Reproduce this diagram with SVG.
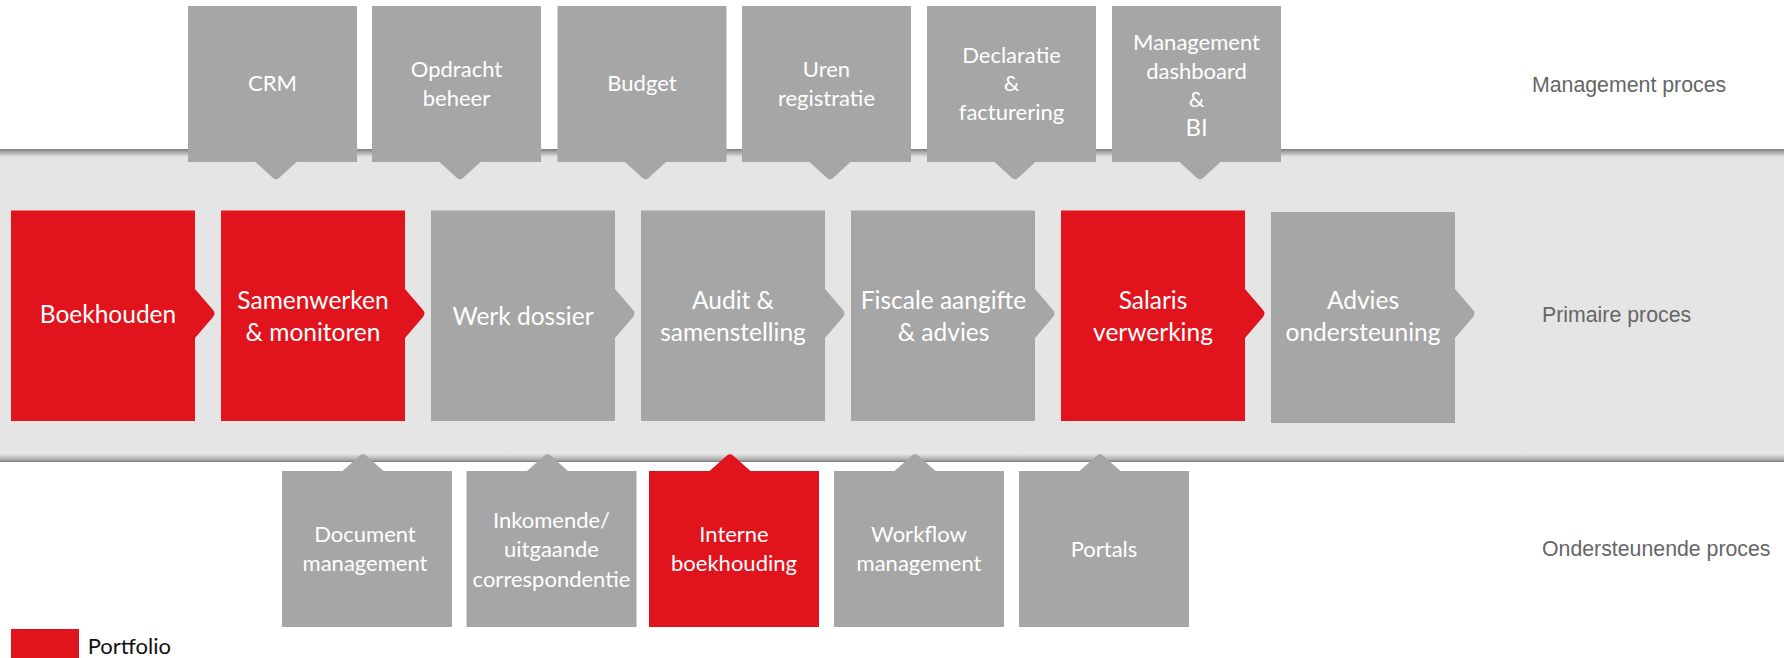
<svg xmlns="http://www.w3.org/2000/svg" width="1784" height="658" viewBox="0 0 1784 658">
<style>
.red{fill:#e1131d}
.gray{fill:#a6a6a6}
.t{font-family:Lato,"Liberation Sans",sans-serif;fill:#ffffff;text-anchor:middle}
.ts{font-size:22px}
.tp{font-size:24.5px}
.lbl{font-family:"Liberation Sans",Arial,sans-serif;font-size:21.3px;fill:#666666}
.leg{font-family:Lato,"Liberation Sans",sans-serif;font-size:22px;fill:#111111}
</style>
<defs>
<linearGradient id="edgeTop" x1="0" y1="0" x2="0" y2="1">
<stop offset="0" stop-color="#7a7a7a"/>
<stop offset="0.25" stop-color="#9a9a9a"/>
<stop offset="1" stop-color="#e5e5e5"/>
</linearGradient>
<linearGradient id="edgeBot" x1="0" y1="0" x2="0" y2="1">
<stop offset="0" stop-color="#e5e5e5"/>
<stop offset="0.75" stop-color="#a8a8a8"/>
<stop offset="1" stop-color="#7a7a7a"/>
</linearGradient>
</defs>
<rect width="1784" height="658" fill="#ffffff"/>
<g id="band">
<rect x="0" y="149" width="1784" height="313" fill="#e5e5e5"/>
<rect x="0" y="149" width="1784" height="8" fill="url(#edgeTop)"/>
<rect x="0" y="454" width="1784" height="8" fill="url(#edgeBot)"/>
</g>
<g id="connectors"/>
<!-- management boxes -->
<g id="crm">
<path class="gray" d="M188 6H357V162H296.5L279 177.9Q276 180.5 273 177.9L255.5 162H188Z"/>
<text class="t ts" x="272.5" y="91">CRM</text>
</g>
<g id="opdracht">
<path class="gray" d="M372 6H541V162H480.5L463 177.9Q460 180.5 457 177.9L439.5 162H372Z"/>
<text class="t ts" x="456.5" y="77">Opdracht</text>
<text class="t ts" x="456.5" y="106">beheer</text>
</g>
<g id="budget">
<path class="gray" d="M557.5 6H726.5V162H666L648.5 177.9Q645.5 180.5 642.5 177.9L625 162H557.5Z"/>
<text class="t ts" x="642" y="91">Budget</text>
</g>
<g id="uren">
<path class="gray" d="M742 6H911V162H850.5L833 177.9Q830 180.5 827 177.9L809.5 162H742Z"/>
<text class="t ts" x="826.5" y="77">Uren</text>
<text class="t ts" x="826.5" y="106">registratie</text>
</g>
<g id="declaratie">
<path class="gray" d="M927 6H1096V162H1035.5L1018 177.9Q1015 180.5 1012 177.9L994.5 162H927Z"/>
<text class="t ts" x="1011.5" y="63">Declaratie</text>
<text class="t ts" x="1011.5" y="91">&amp;</text>
<text class="t ts" x="1011.5" y="119.5">facturering</text>
</g>
<g id="dashboard">
<path class="gray" d="M1112 6H1281V162H1220.5L1203 177.9Q1200 180.5 1197 177.9L1179.5 162H1112Z"/>
<text class="t ts" x="1196.5" y="50">Management</text>
<text class="t ts" x="1196.5" y="78.5">dashboard</text>
<text class="t ts" x="1196.5" y="107">&amp;</text>
<text class="t" style="font-size:24px" x="1196.5" y="136">BI</text>
</g>
<!-- primary process -->
<g id="boekhouden">
<path class="red" d="M11 210.5H195V289L213 310Q216 313.5 213 317L195 338V421H11Z"/>
<text class="t tp" x="108" y="322.7">Boekhouden</text>
</g>
<g id="samenwerken">
<path class="red" d="M221 210.5H405V289L423 310Q426 313.5 423 317L405 338V421H221Z"/>
<text class="t tp" x="313" y="309">Samenwerken</text>
<text class="t tp" x="313" y="340.7">&amp; monitoren</text>
</g>
<g id="werkdossier">
<path class="gray" d="M431 210.5H615V289L633 310Q636 313.5 633 317L615 338V421H431Z"/>
<text class="t tp" x="523" y="325">Werk dossier</text>
</g>
<g id="audit">
<path class="gray" d="M641 210.5H825V289L843 310Q846 313.5 843 317L825 338V421H641Z"/>
<text class="t tp" x="733" y="309">Audit &amp;</text>
<text class="t tp" x="733" y="340.7">samenstelling</text>
</g>
<g id="fiscale">
<path class="gray" d="M851 210.5H1035V289L1053 310Q1056 313.5 1053 317L1035 338V421H851Z"/>
<text class="t tp" x="943.5" y="309">Fiscale aangifte</text>
<text class="t tp" x="943.5" y="340.7">&amp; advies</text>
</g>
<g id="salaris">
<path class="red" d="M1061 210.5H1245V289L1263 310Q1266 313.5 1263 317L1245 338V421H1061Z"/>
<text class="t tp" x="1153" y="309">Salaris</text>
<text class="t tp" x="1153" y="340.7">verwerking</text>
</g>
<g id="advies">
<path class="gray" d="M1271 212H1455V289L1473 310Q1476 313.5 1473 317L1455 338V423H1271Z"/>
<text class="t tp" x="1363" y="309">Advies</text>
<text class="t tp" x="1363" y="340.7">ondersteuning</text>
</g>
<!-- supporting process -->
<g id="document">
<path class="gray" d="M282 471H342.5L360 455.5Q363 452.8 366 455.5L383.5 471H452V627H282Z"/>
<text class="t ts" x="365" y="542.3">Document</text>
<text class="t ts" x="365" y="571">management</text>
</g>
<g id="inkomende">
<path class="gray" d="M466.5 471H527L544.5 455.5Q547.5 452.8 550.5 455.5L568 471H636.5V627H466.5Z"/>
<text class="t ts" x="551.5" y="527.7">Inkomende/</text>
<text class="t ts" x="551.5" y="557.2">uitgaande</text>
<text class="t ts" x="551.5" y="586.7">correspondentie</text>
</g>
<g id="interne">
<path class="red" d="M649 471H709.5L727 455.5Q730 452.8 733 455.5L750.5 471H819V627H649Z"/>
<text class="t ts" x="734" y="542">Interne</text>
<text class="t ts" x="734" y="571">boekhouding</text>
</g>
<g id="workflow">
<path class="gray" d="M834 471H894.5L912 455.5Q915 452.8 918 455.5L935.5 471H1004V627H834Z"/>
<text class="t ts" x="919" y="542">Workflow</text>
<text class="t ts" x="919" y="571">management</text>
</g>
<g id="portals">
<path class="gray" d="M1019 471H1079.5L1097 455.5Q1100 452.8 1103 455.5L1120.5 471H1189V627H1019Z"/>
<text class="t ts" x="1104" y="556.7">Portals</text>
</g>
<!-- row labels -->
<g id="labels">
<text class="lbl" x="1532" y="92.3">Management proces</text>
<text class="lbl" x="1542" y="321.5">Primaire proces</text>
<text class="lbl" x="1542" y="555.7">Ondersteunende proces</text>
</g>
<g id="legend">
<rect class="red" x="11" y="629" width="68" height="29"/>
<text class="leg" x="87.7" y="654">Portfolio</text>
</g>
</svg>
